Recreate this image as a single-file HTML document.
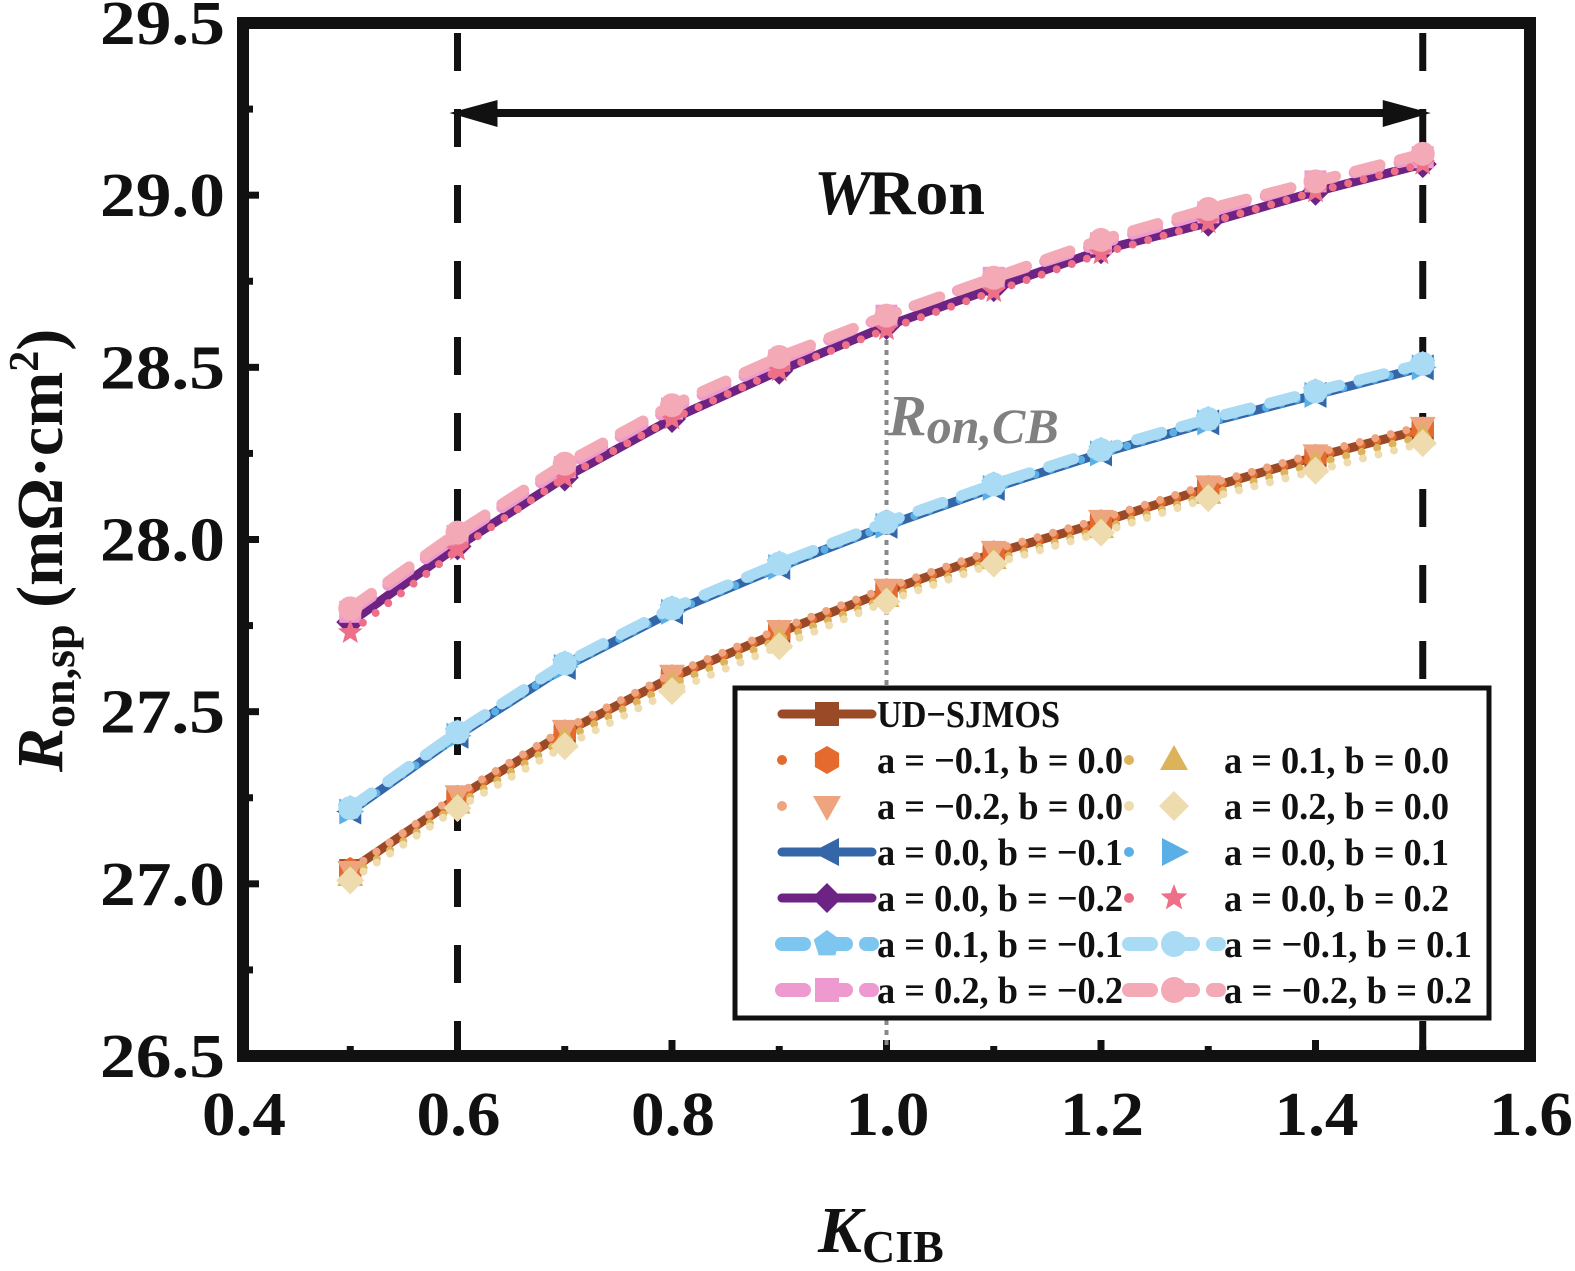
<!DOCTYPE html>
<html><head><meta charset="utf-8"><style>
html,body{margin:0;padding:0;background:#fff;width:1575px;height:1271px;overflow:hidden}
svg{display:block}
text{font-family:"Liberation Serif","Times New Roman",serif;font-weight:bold}
</style></head><body>
<svg id="chart" width="1575" height="1271" viewBox="0 0 1575 1271" xmlns="http://www.w3.org/2000/svg"></svg>
<script>
const kValues=[0.5,0.6,0.7,0.8,0.9,1.0,1.1,1.2,1.3,1.4,1.5];
const udValues=[27.04,27.25,27.44,27.60,27.73,27.85,27.96,28.05,28.15,28.24,28.32];
const aNeg01Values=[27.04,27.25,27.44,27.60,27.73,27.85,27.96,28.05,28.15,28.24,28.32];
const aPos01Values=[27.02,27.23,27.42,27.58,27.71,27.83,27.94,28.03,28.13,28.22,28.30];
const aNeg02Values=[27.04,27.26,27.45,27.61,27.74,27.86,27.97,28.06,28.16,28.25,28.33];
const aPos02Values=[27.01,27.22,27.40,27.56,27.69,27.82,27.93,28.02,28.12,28.20,28.28];
const bNeg01Values=[27.21,27.43,27.63,27.79,27.92,28.04,28.15,28.25,28.34,28.42,28.50];
const bPos01Values=[27.21,27.43,27.63,27.79,27.92,28.04,28.15,28.25,28.34,28.42,28.50];
const bNeg02Values=[27.76,27.98,28.18,28.35,28.49,28.62,28.73,28.84,28.92,29.01,29.09];
const bPos02Values=[27.73,27.97,28.18,28.35,28.49,28.61,28.72,28.83,28.92,29.01,29.09];
const ab1Values=[27.22,27.44,27.64,27.80,27.93,28.05,28.16,28.26,28.35,28.43,28.51];
const abm1Values=[27.22,27.44,27.64,27.80,27.93,28.05,28.16,28.26,28.35,28.43,28.51];
const ab2Values=[27.79,28.01,28.21,28.38,28.52,28.65,28.76,28.86,28.95,29.04,29.11];
const abm2Values=[27.80,28.02,28.22,28.39,28.53,28.65,28.76,28.87,28.96,29.04,29.12];
const xTicks=[0.4,0.6,0.8,1.0,1.2,1.4,1.6];
const xTickLabels=["0.4","0.6","0.8","1.0","1.2","1.4","1.6"];
const yTicks=[26.5,27.0,27.5,28.0,28.5,29.0,29.5];
const yTickLabels=["26.5","27.0","27.5","28.0","28.5","29.0","29.5"];

const NS="http://www.w3.org/2000/svg";
const svg=document.getElementById('chart');
const X0=243,X1=1530,Y0=1056,Y1=23;
function xs(v){return X0+(v-0.4)/1.2*(X1-X0);}
function ys(v){return Y0-(v-26.5)/3*(Y0-Y1);}
function mk(tag,attrs,parent){const e=document.createElementNS(NS,tag);for(const k in attrs)e.setAttribute(k,attrs[k]);(parent||svg).appendChild(e);return e;}

for(let i=0;i<=12;i++){const v=0.4+i*0.1;const x=xs(v);const len=(i%2===0)?16:10;
  const t=mk('line',{x1:x,y1:Y0,x2:x,y2:Y0-len,stroke:'#111','stroke-width':7});
  
  }
for(let i=0;i<=12;i++){const v=26.5+i*0.25;const y=ys(v);const len=(i%2===0)?16:10;
  const t=mk('line',{x1:X0,y1:y,x2:X0+len,y2:y,stroke:'#111','stroke-width':7});
  
  }
xTicks.forEach((v,i)=>{const t=mk('text',{x:xs(v)-41,y:1135,'font-size':62,fill:'#111',textLength:84,lengthAdjust:'spacingAndGlyphs'});t.textContent=xTickLabels[i];
  
  });
yTicks.forEach((v,i)=>{const t=mk('text',{x:100,y:ys(v)+21,'font-size':62,fill:'#111',textLength:125,lengthAdjust:'spacingAndGlyphs'});t.textContent=yTickLabels[i];
  
  });

[0.6,1.5].forEach(v=>{const l=mk('line',{x1:xs(v),y1:Y1+8,x2:xs(v),y2:Y0-4,stroke:'#111','stroke-width':7,'stroke-dasharray':'38 38','stroke-dashoffset':'-2'});
  
  });
const dl=mk('line',{x1:xs(1.0),y1:330,x2:xs(1.0),y2:Y0,stroke:'#888','stroke-width':4,'stroke-dasharray':'5 5'});


const ar=mk('g',{});


mk('line',{x1:xs(0.6)+30,y1:113,x2:xs(1.5)-30,y2:113,stroke:'#111','stroke-width':8},ar);
mk('polygon',{points:`${xs(0.6)-8},113 ${xs(0.6)+40},100 ${xs(0.6)+40},127`,fill:'#111'},ar);
mk('polygon',{points:`${xs(1.5)+8},113 ${xs(1.5)-40},100 ${xs(1.5)-40},127`,fill:'#111'},ar);
const w=mk('text',{x:814,y:214,'font-size':64,fill:'#111'});


w.innerHTML='<tspan font-style="italic">W</tspan><tspan x="868" textLength="117" lengthAdjust="spacingAndGlyphs">Ron</tspan>';
const rc=mk('text',{x:888,y:435,'font-size':58,fill:'#808080','font-style':'italic'});


rc.innerHTML='R<tspan font-size="50" dy="8">on,CB</tspan>';

function marker(type,x,y,color,g,s){s=s||12;
  if(type==='square')return mk('rect',{x:x-s,y:y-s,width:2*s,height:2*s,fill:color},g);
  if(type==='circle')return mk('circle',{cx:x,cy:y,r:s+1,fill:color},g);
  if(type==='tri')return mk('polygon',{points:`${x},${y-s-3} ${x+s+2},${y+s-2} ${x-s-2},${y+s-2}`,fill:color},g);
  if(type==='dtri')return mk('polygon',{points:`${x},${y+s+3} ${x+s+2},${y-s+2} ${x-s-2},${y-s+2}`,fill:color},g);
  if(type==='diamond')return mk('polygon',{points:`${x},${y-s-3} ${x+s+3},${y} ${x},${y+s+3} ${x-s-3},${y}`,fill:color},g);
  if(type==='ltri')return mk('polygon',{points:`${x-s-3},${y} ${x+s},${y-s-2} ${x+s},${y+s+2}`,fill:color},g);
  if(type==='rtri')return mk('polygon',{points:`${x+s+3},${y} ${x-s},${y-s-2} ${x-s},${y+s+2}`,fill:color},g);
  if(type==='hex'){let p=[];for(let i=0;i<6;i++){const a=Math.PI/3*i+Math.PI/6;p.push((x+(s+2)*Math.cos(a))+','+(y+(s+2)*Math.sin(a)));}return mk('polygon',{points:p.join(' '),fill:color},g);}
  if(type==='pent'){let p=[];for(let i=0;i<5;i++){const a=-Math.PI/2+i*2*Math.PI/5;p.push((x+(s+2)*Math.cos(a))+','+(y+(s+2)*Math.sin(a)));}return mk('polygon',{points:p.join(' '),fill:color},g);}
  if(type==='star'){let p=[];for(let i=0;i<10;i++){const a=-Math.PI/2+i*Math.PI/5;const r=i%2?s*0.5:s+2;p.push((x+r*Math.cos(a))+','+(y+r*Math.sin(a)));}return mk('polygon',{points:p.join(' '),fill:color},g);}
}
const series=[
 {name:'ud-sjmos',label:'UD−SJMOS',vals:udValues,color:'#9b4a28',style:'solid',m:'square',col:0,row:0},
 {name:'a-neg01-b-0',label:'a = −0.1, b = 0.0',vals:aNeg01Values,color:'#e46a2e',style:'dot',m:'hex',col:0,row:1},
 {name:'a-pos01-b-0',label:'a = 0.1, b = 0.0',vals:aPos01Values,color:'#dcb35a',style:'dot',m:'tri',col:1,row:1},
 {name:'a-neg02-b-0',label:'a = −0.2, b = 0.0',vals:aNeg02Values,color:'#eea57f',style:'dot',m:'dtri',col:0,row:2},
 {name:'a-pos02-b-0',label:'a = 0.2, b = 0.0',vals:aPos02Values,color:'#eedbae',style:'dot',m:'diamond',col:1,row:2},
 {name:'a-0-b-neg01',label:'a = 0.0, b = −0.1',vals:bNeg01Values,color:'#3566a8',style:'solid',m:'ltri',col:0,row:3},
 {name:'a-0-b-pos01',label:'a = 0.0, b = 0.1',vals:bPos01Values,color:'#5ab0e6',style:'dot',m:'rtri',col:1,row:3},
 {name:'a-0-b-neg02',label:'a = 0.0, b = −0.2',vals:bNeg02Values,color:'#6c2383',style:'solid',m:'diamond',col:0,row:4},
 {name:'a-0-b-pos02',label:'a = 0.0, b = 0.2',vals:bPos02Values,color:'#ee7088',style:'dot',m:'star',col:1,row:4},
 {name:'a-01-b-neg01',label:'a = 0.1, b = −0.1',vals:ab1Values,color:'#7cc6f0',style:'dash',m:'pent',col:0,row:5},
 {name:'a-neg01-b-01',label:'a = −0.1, b = 0.1',vals:abm1Values,color:'#aadbf5',style:'dash',m:'circle',col:1,row:5},
 {name:'a-02-b-neg02',label:'a = 0.2, b = −0.2',vals:ab2Values,color:'#ee99cf',style:'dash',m:'square',col:0,row:6},
 {name:'a-neg02-b-02',label:'a = −0.2, b = 0.2',vals:abm2Values,color:'#f4a9b6',style:'dash',m:'circle',col:1,row:6}
];
function lineAttrs(s){const a={fill:'none',stroke:s.color,'stroke-linecap':'round','stroke-linejoin':'round'};
  if(s.style==='solid'){a['stroke-width']=9;}
  else if(s.style==='dot'){a['stroke-width']=8;a['stroke-dasharray']='0 16';}
  else {a['stroke-width']=11;a['stroke-dasharray']='26 20';}
  return a;}
const order=[0,1,3,2,4,5,9,6,10,7,11,8,12];
order.forEach(i=>{const s=series[i];
  const g=mk('g',{});
  
  
  const pts=kValues.map((k,j)=>xs(k)+','+ys(s.vals[j])).join(' ');
  const a=lineAttrs(s);a.points=pts;mk('polyline',a,g);
  kValues.forEach((k,j)=>{const p=marker(s.m,xs(k),ys(s.vals[j]),s.color,g,11);
    
    });
});

const fr=mk('rect',{x:X0,y:Y1,width:X1-X0,height:Y0-Y1,fill:'none',stroke:'#111','stroke-width':12});



const lg=mk('g',{});


mk('rect',{x:735,y:688,width:754,height:330,fill:'#fff',stroke:'#111','stroke-width':5},lg);
series.forEach(s=>{const x0=s.col?1127:780,y=714+s.row*46;
  const e=mk('g',{},lg);
  
  
  const a=lineAttrs(s);
  if(s.style==='dot'){a['stroke-dasharray']='0 45';a['stroke-width']=10;}
  if(s.style==='dash'){a['stroke-dasharray']='22 20';a['stroke-width']=14;}
  a.points=`${x0+2},${y} ${x0+92},${y}`;mk('polyline',a,e);
  marker(s.m,x0+47,y,s.color,e,12);
  const t=mk('text',{x:x0+97,y:y+13,'font-size':38,fill:'#111'},e);
  t.textContent=s.label;
  t.setAttribute('textLength', s.row===0?183:(s.label.startsWith('a = −')&&s.col===1?248:(s.col?225:246)));
  t.setAttribute('lengthAdjust','spacingAndGlyphs');
});

const xt=mk('text',{x:818,y:1252,'font-size':66,fill:'#111'});


xt.innerHTML='<tspan font-style="italic">K</tspan><tspan font-size="46" dy="10">CIB</tspan>';
const yt=mk('text',{x:0,y:0,'font-size':66,fill:'#111',transform:'translate(62,772) rotate(-90)'});


yt.innerHTML='<tspan font-style="italic">R</tspan><tspan font-size="46" dy="12">on,sp</tspan><tspan dy="-12"> (mΩ·cm</tspan><tspan font-size="42" dy="-24">2</tspan><tspan dy="24">)</tspan>';
</script>
</body></html>
